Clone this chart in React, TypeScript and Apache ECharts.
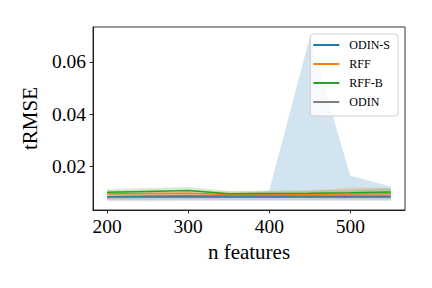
import React, { useEffect, useRef } from "react";
import * as echarts from "echarts";

const xs = [200, 250, 300, 350, 400, 450, 500, 550];

const names = ["ODIN-S", "RFF", "RFF-B", "ODIN"];
const colors = ["#1f77b4", "#ff7f0e", "#2ca02c", "#7f7f7f"];

const odinSMean = [0.0086, 0.0087, 0.0088, 0.0087, 0.0087, 0.0087, 0.0087, 0.0087];
const odinSLow = [0.0073, 0.0073, 0.0074, 0.0074, 0.0074, 0.0074, 0.0074, 0.0074];
const odinSHigh = [0.0096, 0.0097, 0.0099, 0.0097, 0.0108, 0.0695, 0.0166, 0.0125];

const rffMean = [0.0097, 0.0098, 0.0099, 0.0094, 0.0095, 0.0095, 0.0096, 0.0098];
const rffLow = [0.0086, 0.0087, 0.0088, 0.0086, 0.0086, 0.0086, 0.0085, 0.0086];
const rffHigh = [0.0109, 0.011, 0.0111, 0.0106, 0.0106, 0.0107, 0.0122, 0.0119];

const rffBMean = [0.0103, 0.0106, 0.0109, 0.0097, 0.0098, 0.0099, 0.0101, 0.0104];
const rffBLow = [0.0092, 0.0094, 0.0096, 0.0088, 0.0089, 0.009, 0.0091, 0.0093];
const rffBHigh = [0.0114, 0.0119, 0.0123, 0.0107, 0.0108, 0.011, 0.0112, 0.0119];

const odinMean = [0.0083, 0.0084, 0.0084, 0.0084, 0.0084, 0.0084, 0.0084, 0.0084];
const odinLow = [0.0068, 0.0068, 0.0069, 0.0069, 0.0069, 0.0069, 0.0069, 0.0069];
const odinHigh = [0.0093, 0.0093, 0.0094, 0.0094, 0.0094, 0.0094, 0.0094, 0.0094];

const xTicks = [200, 300, 400, 500];
const yTicks = [0.02, 0.04, 0.06];

const means = [odinSMean, rffMean, rffBMean, odinMean];
const lows = [odinSLow, rffLow, rffBLow, odinLow];
const highs = [odinSHigh, rffHigh, rffBHigh, odinHigh];

const FONT = "Liberation Serif";

export default function App() {
  const ref = useRef<HTMLDivElement>(null);
  useEffect(() => {
    document.body.style.margin = "0";
    const chart = echarts.init(ref.current!, null, { renderer: "svg" });
    const series: any[] = [];
    names.forEach((n, i) => {
      const data = xs.map((x, k) => [x, lows[i][k], highs[i][k]]);
      series.push({
        type: "custom",
        name: "band-" + i,
        data,
        encode: { x: 0, y: [1, 2] },
        silent: true,
        z: 1,
        renderItem: (params: any, api: any) => {
          if (params.dataIndex !== 0) return null;
          const upper = data.map((d) => api.coord([d[0], d[2]]));
          const lower = data.map((d) => api.coord([d[0], d[1]])).reverse();
          return {
            type: "polygon",
            shape: { points: upper.concat(lower) },
            style: { fill: colors[i], opacity: 0.2, stroke: "none" },
          };
        },
      });
    });
    names.forEach((n, i) => {
      series.push({
        type: "line",
        name: n,
        data: xs.map((x, k) => [x, means[i][k]]),
        symbol: "none",
        lineStyle: { width: 1.5, color: colors[i] },
        itemStyle: { color: colors[i] },
        z: 3,
      });
    });
    chart.setOption({
      animation: false,
      grid: { left: 93, right: 27, top: 27, bottom: 78, containLabel: false, show: true, borderColor: "#000", borderWidth: 0.8, backgroundColor: "transparent" },
      legend: {
        data: names.map((n, i) => ({ name: n, icon: "rect", itemStyle: { color: colors[i] } })),
        orient: "vertical",
        right: 34,
        top: 34,
        itemWidth: 26,
        itemHeight: 2,
        itemGap: 5,
        padding: [4, 8, 7, 3],
        backgroundColor: "rgba(255,255,255,0.8)",
        borderColor: "#d0d0d0",
        borderWidth: 1,
        borderRadius: 3,
        textStyle: { fontFamily: FONT, fontSize: 12, lineHeight: 14, color: "#000", padding: [0, 0, 0, 5] },
      },
      xAxis: {
        type: "value",
        min: 182.5,
        max: 567.5,
        name: "n features",
        nameLocation: "middle",
        nameGap: 31,
        nameTextStyle: { fontFamily: FONT, fontSize: 21, color: "#000" },
        splitLine: { show: false },
        axisLine: { show: true, onZero: false, lineStyle: { color: "#000", width: 0.8 } },
        axisTick: { show: true, length: 3.5, lineStyle: { color: "#000", width: 0.8 }, customValues: xTicks },
        axisLabel: { fontFamily: FONT, fontSize: 19.5, color: "#000", margin: 6, customValues: xTicks },
      },
      yAxis: {
        type: "value",
        min: 0.0035,
        max: 0.0733,
        name: "tRMSE",
        nameLocation: "middle",
        nameGap: 49,
        nameTextStyle: { fontFamily: FONT, fontSize: 21, color: "#000" },
        splitLine: { show: false },
        axisLine: { show: true, onZero: false, lineStyle: { color: "#000", width: 0.8 } },
        axisTick: { show: true, length: 3.5, lineStyle: { color: "#000", width: 0.8 }, customValues: yTicks },
        axisLabel: { fontFamily: FONT, fontSize: 19.5, color: "#000", margin: 7, customValues: yTicks, formatter: (v: number) => v.toFixed(2) },
      },
      series,
    });
    return () => chart.dispose();
  }, []);
  return <div ref={ref} style={{ width: 432, height: 288, position: "relative" }} />;
}
